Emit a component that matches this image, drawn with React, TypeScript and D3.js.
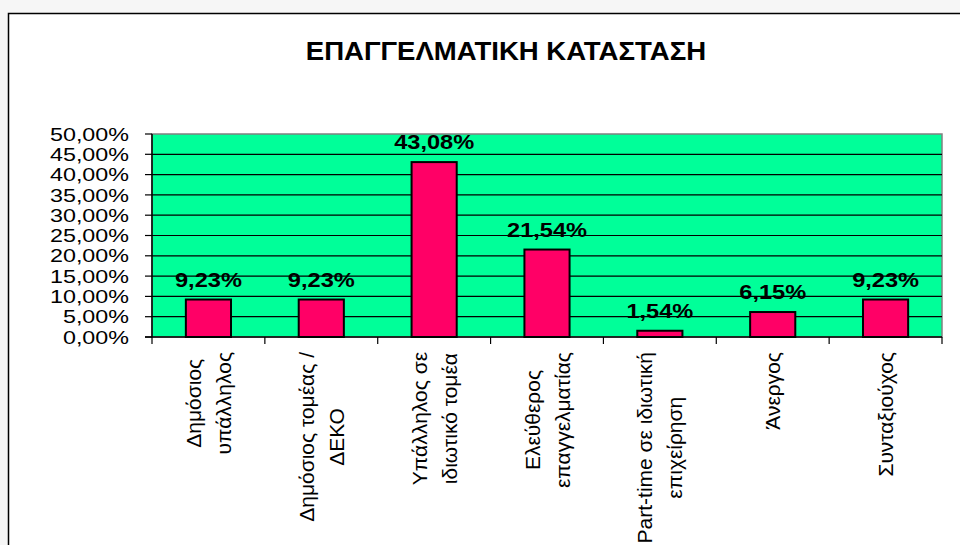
import React, { useEffect, useLayoutEffect, useRef } from "react";
import * as d3 from "d3";

// categories (line breaks as in the original)
const categoryLines: string[][] = [
  ["Δημόσιος", "υπάλληλος"],
  ["Δημόσιος τομέας /", "ΔΕΚΟ"],
  ["Υπάλληλος σε", "ιδιωτικό τομέα"],
  ["Ελεύθερος", "επαγγελματίας"],
  ["Part-time σε ιδιωτική", "επιχείρηση"],
  ["Άνεργος"],
  ["Συνταξιούχος"],
];
const values = [9.23, 9.23, 43.08, 21.54, 1.54, 6.15, 9.23];
const yTicks = [0, 5, 10, 15, 20, 25, 30, 35, 40, 45, 50];
const title = "ΕΠΑΓΓΕΛΜΑΤΙΚΗ ΚΑΤΑΣΤΑΣΗ";

const fmt = (v: number) => v.toFixed(2).replace(".", ",") + "%";

export default function App() {
  const width = 960;
  const height = 545;
  const plot = { left: 152, right: 942, top: 134, bottom: 337 };
  const labelsRef = useRef<SVGGElement>(null);

  useEffect(() => {
    document.body.style.margin = "0";
  }, []);

  const x = d3
    .scaleBand<number>()
    .domain(values.map((_, i) => i))
    .range([plot.left, plot.right])
    .padding(0);
  const y = d3.scaleLinear().domain([0, 50]).range([plot.bottom, plot.top]);
  const barW = x.bandwidth() * 0.4;
  const lineGap = 30;
  const labelTop = 352;

  // category labels: rotated, lines centred on each other, block top at labelTop
  useLayoutEffect(() => {
    const g = d3.select(labelsRef.current);
    g.selectAll<SVGGElement, unknown>("g.cat").each(function () {
      const texts = d3.select(this).selectAll<SVGTextElement, unknown>("text");
      let maxLen = 0;
      texts.each(function () {
        maxLen = Math.max(maxLen, this.getComputedTextLength());
      });
      const cx = +(this.getAttribute("data-cx") || 0);
      d3.select(this).attr(
        "transform",
        `translate(${cx},${labelTop + maxLen / 2}) rotate(-90)`
      );
    });
  }, []);

  return (
    <svg width={width} height={height} style={{ display: "block" }}>
      <rect x={0} y={0} width={width} height={height} fill="#f6f6f6" />
      <rect
        x={8.5}
        y={13.5}
        width={width}
        height={height}
        fill="#ffffff"
        stroke="#000"
        strokeWidth={1.5}
      />

      {/* title */}
      <text
        x={506}
        y={60}
        textAnchor="middle"
        fontFamily="Liberation Sans, Arial, sans-serif"
        fontWeight="bold"
        fontSize={26}
        transform={`translate(506,0) scale(1.06,1) translate(-506,0)`}
      >
        {title}
      </text>

      {/* plot area */}
      <rect
        x={plot.left}
        y={plot.top}
        width={plot.right - plot.left}
        height={plot.bottom - plot.top}
        fill="#00ff99"
        stroke="#808080"
        strokeWidth={1.5}
      />
      {yTicks
        .filter((t) => t > 0 && t < 50)
        .map((t) => (
          <line
            key={t}
            x1={plot.left}
            x2={plot.right}
            y1={y(t)}
            y2={y(t)}
            stroke="#000"
            strokeWidth={1.2}
          />
        ))}

      {/* bars */}
      {values.map((v, i) => {
        const cx = (x(i) as number) + x.bandwidth() / 2;
        return (
          <g key={i}>
            <rect
              x={cx - barW / 2}
              y={y(v)}
              width={barW}
              height={y(0) - y(v)}
              fill="#ff0066"
              stroke="#000"
              strokeWidth={2}
            />
            <text
              x={0}
              y={y(v) - 13}
              textAnchor="middle"
              fontFamily="Liberation Sans, Arial, sans-serif"
              fontWeight="bold"
              fontSize={20}
              transform={`translate(${cx},0) scale(1.18,1)`}
            >
              {fmt(v)}
            </text>
          </g>
        );
      })}

      {/* axes */}
      <line x1={plot.left} x2={plot.left} y1={plot.top} y2={plot.bottom} stroke="#000" strokeWidth={1.5} />
      <line x1={plot.left - 7} x2={plot.right} y1={plot.bottom} y2={plot.bottom} stroke="#000" strokeWidth={1.5} />
      {yTicks.map((t) => (
        <g key={t}>
          <line x1={plot.left - 7} x2={plot.left} y1={y(t)} y2={y(t)} stroke="#000" strokeWidth={1.2} />
          <text
            x={0}
            y={y(t)}
            dy="0.36em"
            textAnchor="end"
            fontFamily="Liberation Sans, Arial, sans-serif"
            fontSize={18.5}
            transform={`translate(129,0) scale(1.26,1)`}
          >
            {fmt(t)}
          </text>
        </g>
      ))}
      {values.map((_, i) => (
        <line
          key={i}
          x1={x(i) as number}
          x2={x(i) as number}
          y1={plot.bottom}
          y2={plot.bottom + 7}
          stroke="#000"
          strokeWidth={1.2}
        />
      ))}
      <line x1={plot.right} x2={plot.right} y1={plot.bottom} y2={plot.bottom + 7} stroke="#000" strokeWidth={1.2} />

      {/* category labels */}
      <g ref={labelsRef}>
        {categoryLines.map((lines, i) => {
          const cx = (x(i) as number) + x.bandwidth() / 2;
          return (
            <g key={i} className="cat" data-cx={cx}>
              {lines.map((ln, j) => (
                <text
                  key={j}
                  x={0}
                  y={(j - (lines.length - 1) / 2) * lineGap + 7.5}
                  textAnchor="middle"
                  fontFamily="Liberation Sans, Arial, sans-serif"
                  fontSize={21}
                >
                  {ln}
                </text>
              ))}
            </g>
          );
        })}
      </g>
    </svg>
  );
}
